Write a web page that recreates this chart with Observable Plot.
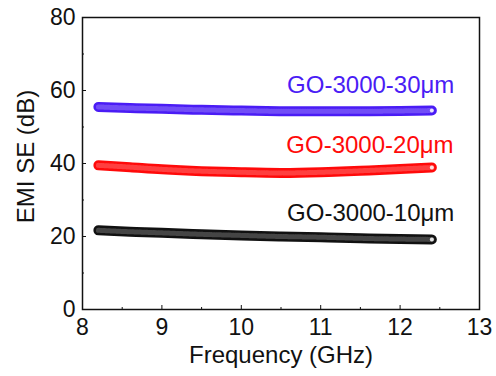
<!DOCTYPE html>
<html>
<head>
<meta charset="utf-8">
<script src="https://cdn.jsdelivr.net/npm/d3@7"></script>
<script src="https://cdn.jsdelivr.net/npm/@observablehq/plot@0.6"></script>
<style>
  html, body { margin: 0; padding: 0; background: #fff; }
  #chart svg { display: block; }
</style>
</head>
<body>
<div id="chart"></div>
<script>
// Frequency samples (GHz)
const frequency = [8.2, 8.6, 9.0, 9.5, 10.0, 10.5, 11.0, 11.5, 12.0, 12.4];

// EMI shielding effectiveness (dB) per film thickness
const se30 = [55.5, 55.2, 55.0, 54.7, 54.5, 54.3, 54.3, 54.3, 54.4, 54.5];
const se20 = [39.5, 39.0, 38.4, 37.9, 37.6, 37.4, 37.6, 38.0, 38.5, 38.9];
const se10 = [21.7, 21.3, 21.0, 20.6, 20.3, 20.0, 19.8, 19.5, 19.3, 19.2];

const seriesNames = ["GO-3000-30μm", "GO-3000-20μm", "GO-3000-10μm"];
const seriesColors = ["#4a1cf5", "#ff0a0a", "#111111"];
const seriesValues = [se30, se20, se10];

const xTicks = [8, 9, 10, 11, 12, 13];
const xMinor = [8.5, 9.5, 10.5, 11.5, 12.5];
const yTicks = [0, 20, 40, 60, 80];
const yMinor = [10, 30, 50, 70];

const rows = seriesNames.flatMap((name, i) =>
  frequency.map((f, j) => ({series: name, f, se: seriesValues[i][j]}))
);
const lastRows = seriesNames.map((name, i) => ({
  series: name, f: frequency[frequency.length - 1], se: seriesValues[i][frequency.length - 1]
}));

// label anchor positions in data units
const labelPos = [
  {series: seriesNames[0], f: 11.63, se: 61.4},
  {series: seriesNames[1], f: 11.62, se: 44.9},
  {series: seriesNames[2], f: 11.63, se: 26.3}
];

const color = {domain: seriesNames, range: seriesColors};

const chart = Plot.plot({
  width: 496,
  height: 376,
  marginLeft: 82,
  marginRight: 17,
  marginTop: 17,
  marginBottom: 67,
  style: {fontFamily: "'Liberation Sans', Arial, sans-serif", fontSize: "23px", color: "#111", background: "#fff"},
  x: {domain: [8, 13]},
  y: {domain: [0, 80]},
  color,
  marks: [
    Plot.axisX({ticks: xTicks, tickSize: -4, tickPadding: 13, fontSize: 23, tickFormat: d => d, label: null}),
    Plot.axisX({ticks: xMinor, tickSize: -2, tickFormat: () => "", label: null}),
    Plot.axisY({ticks: yTicks, tickSize: -4, tickPadding: 11, fontSize: 23, tickFormat: d => d, label: null}),
    Plot.axisY({ticks: yMinor, tickSize: -2, tickFormat: () => "", label: null}),
    Plot.text(["Frequency (GHz)"], {frameAnchor: "bottom", lineAnchor: "middle", textAnchor: "middle", dy: 46, fontSize: 24, text: d => d}),
    Plot.text(["EMI SE (dB)"], {frameAnchor: "left", lineAnchor: "middle", textAnchor: "middle", dx: -56, dy: -7, rotate: -90, fontSize: 24, text: d => d}),
    // thick band of overlapping markers
    Plot.line(rows, {x: "f", y: "se", z: "series", stroke: "series", strokeWidth: 10, strokeLinecap: "round", curve: "natural"}),
    Plot.line(rows, {x: "f", y: "se", z: "series", stroke: "white", strokeOpacity: 0.22, strokeWidth: 5, strokeDasharray: "1,1.4", curve: "natural"}),
    Plot.dot(lastRows, {x: "f", y: "se", r: 2, fill: "white", fillOpacity: 0.85}),
    Plot.text(labelPos, {x: "f", y: "se", text: "series", fill: "series", fontSize: 24, textAnchor: "middle"}),
    Plot.frame({stroke: "#111", strokeWidth: 1.5})
  ]
});

document.getElementById("chart").appendChild(chart);
</script>
</body>
</html>
